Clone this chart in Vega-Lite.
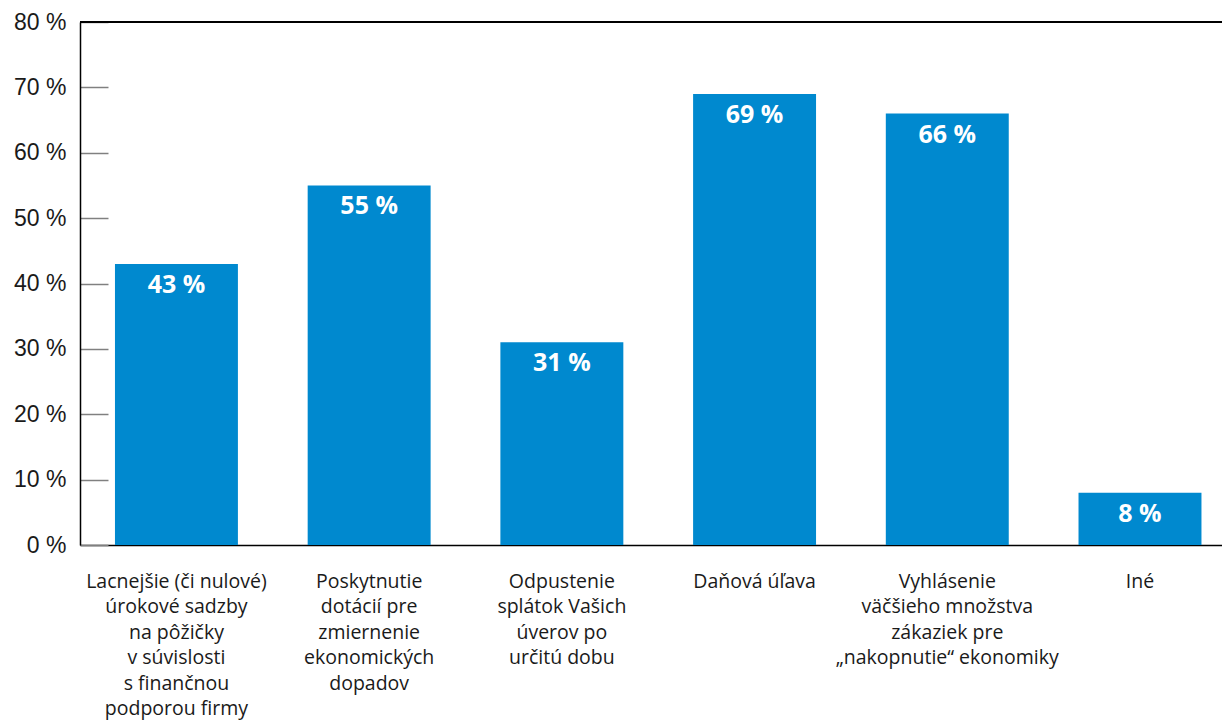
{
  "$schema": "https://vega.github.io/schema/vega-lite/v6.json",
  "width": 1142,
  "height": 523,
  "autosize": {"type": "none"},
  "padding": {"left": 80, "top": 22, "right": 0, "bottom": 177},
  "background": "white",
  "config": {"view": {"stroke": null}},
  "data": {
    "values": [
      {"kategoria": "Lacnejšie (či nulové)\núrokové sadzby\nna pôžičky\nv súvislosti\ns finančnou\npodporou firmy", "podiel": 43, "popis": "43 %"},
      {"kategoria": "Poskytnutie\ndotácií pre\nzmiernenie\nekonomických\ndopadov", "podiel": 55, "popis": "55 %"},
      {"kategoria": "Odpustenie\nsplátok Vašich\núverov po\nurčitú dobu", "podiel": 31, "popis": "31 %"},
      {"kategoria": "Daňová úľava", "podiel": 69, "popis": "69 %"},
      {"kategoria": "Vyhlásenie\nväčšieho množstva\nzákaziek pre\n„nakopnutie“ ekonomiky", "podiel": 66, "popis": "66 %"},
      {"kategoria": "Iné", "podiel": 8, "popis": "8 %"}
    ]
  },
  "encoding": {
    "x": {
      "field": "kategoria",
      "type": "nominal",
      "sort": null,
      "scale": {"paddingInner": 0.362, "paddingOuter": 0.144, "align": 0.63},
      "axis": {
        "title": null,
        "labelAngle": 0,
        "ticks": false,
        "domainColor": "#000000",
        "domainWidth": 1.5,
        "labelFont": "Open Sans",
        "labelFontSize": 19.5,
        "labelColor": "#1a1a1a",
        "labelLineHeight": 25.5,
        "labelPadding": 27,
        "labelBaseline": "top",
        "labelLimit": 400,
        "labelExpr": "split(datum.label, '\\n')"
      }
    },
    "y": {
      "field": "podiel",
      "type": "quantitative",
      "scale": {"domain": [0, 80]},
      "axis": {
        "title": null,
        "values": [0, 10, 20, 30, 40, 50, 60, 70, 80],
        "grid": false,
        "tickSize": -28,
        "tickColor": "#808080",
        "tickWidth": 1.5,
        "domainColor": "#000000",
        "domainWidth": 1.5,
        "labelFont": "Liberation Sans",
        "labelFontSize": 23,
        "labelColor": "#1a1a1a",
        "labelPadding": 42,
        "labelExpr": "datum.value + ' %'"
      }
    }
  },
  "layer": [
    {"mark": {"type": "bar", "color": "#0089CF"}},
    {
      "mark": {"type": "text", "color": "white", "font": "Open Sans", "fontWeight": "bold", "fontSize": 25, "baseline": "middle", "dy": 21},
      "encoding": {"text": {"field": "popis"}}
    },
    {
      "mark": {"type": "rule", "color": "#000000", "strokeWidth": 1.5},
      "encoding": {"y": {"datum": 80}, "x": null}
    }
  ]
}
